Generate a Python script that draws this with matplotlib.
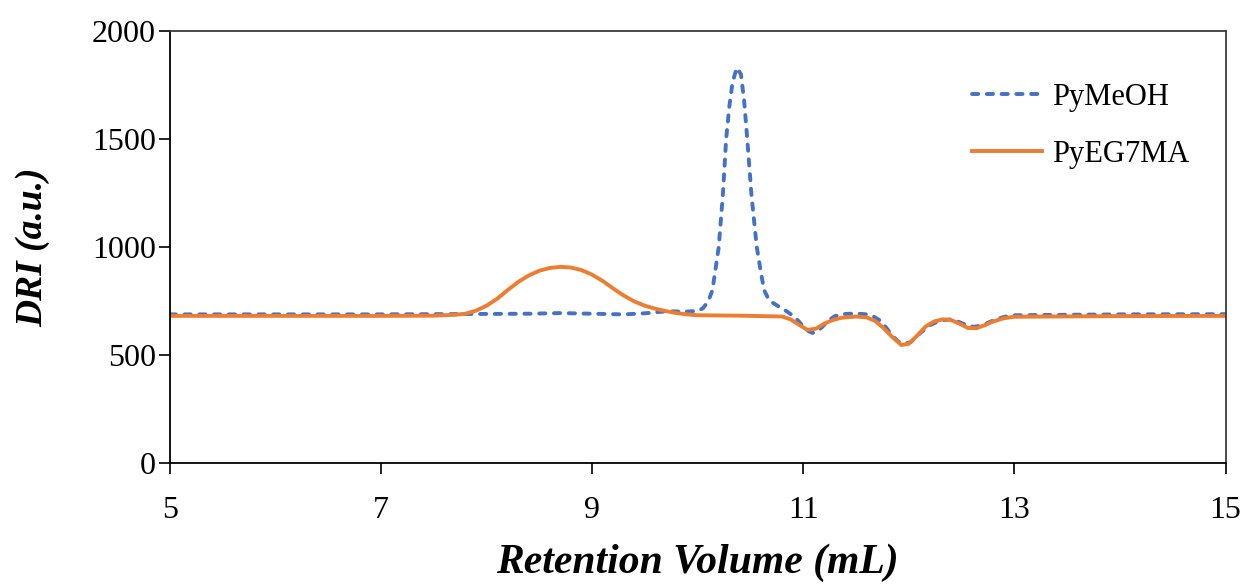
import numpy as np
import matplotlib
matplotlib.use("Agg")
import matplotlib.pyplot as plt

plt.rcParams['font.family'] = ['Liberation Serif', 'DejaVu Serif']

# PyMeOH (blue dashed)
meoh_x = [5.0, 6.0, 7.0, 8.0, 8.4, 8.7, 9.0, 9.3, 9.5, 9.7, 9.9, 10.0, 10.05, 10.1,
          10.14, 10.2, 10.24, 10.27, 10.3, 10.33, 10.37, 10.41, 10.44, 10.47, 10.51,
          10.56, 10.6, 10.63, 10.67, 10.7, 10.75, 10.8, 10.85, 10.9, 10.95, 11.0,
          11.05, 11.09, 11.13, 11.18, 11.24, 11.3, 11.4, 11.5, 11.6, 11.66, 11.72,
          11.78, 11.84, 11.9, 11.96, 12.02, 12.1, 12.2, 12.3, 12.4, 12.48, 12.55,
          12.62, 12.7, 12.8, 12.9, 13.0, 13.5, 14.0, 15.0]
meoh_y = [688, 688, 688, 690, 691, 694, 691, 688, 693, 702, 701, 704, 716, 748,
          800, 1000, 1250, 1500, 1650, 1760, 1830, 1800, 1680, 1500, 1240,
          1000, 880, 800, 760, 745, 730, 715, 700, 682, 660, 632,
          610, 602, 608, 630, 660, 680, 690, 692, 688, 680, 662,
          630, 592, 562, 552, 560, 598, 638, 660, 665, 652, 638,
          630, 638, 660, 676, 684, 686, 688, 689]

# PyEG7MA (orange solid)
eg7_x = [5.0, 6.0, 7.0, 7.5, 7.7, 7.8, 7.9, 8.0, 8.1, 8.2, 8.3, 8.4, 8.5, 8.6, 8.7,
         8.8, 8.9, 9.0, 9.1, 9.2, 9.3, 9.4, 9.5, 9.6, 9.7, 9.8, 9.9, 10.0, 10.4,
         10.8, 10.88, 10.95, 11.04, 11.12, 11.2, 11.28, 11.36, 11.5, 11.6, 11.68,
         11.76, 11.84, 11.93, 12.0, 12.08, 12.16, 12.24, 12.32, 12.4, 12.48, 12.56,
         12.64, 12.72, 12.8, 12.9, 13.0, 14.0, 15.0]
eg7_y = [681, 681, 681, 682, 686, 691, 705, 728, 760, 800, 838, 868, 890, 903, 908,
         905, 893, 872, 843, 808, 775, 748, 728, 714, 703, 694, 688, 684, 682,
         678, 665, 643, 616, 622, 645, 662, 672, 678, 674, 658,
         625, 585, 546, 552, 590, 632, 655, 665, 662, 645, 625,
         624, 638, 655, 670, 677, 680, 681]

fig = plt.figure(figsize=(12.48, 5.86), dpi=100)
ax = fig.add_axes([0.136, 0.210, 0.846, 0.737])

ax.plot(meoh_x, meoh_y, color='#4472C4', lw=2.8, linestyle=(0, (1.6, 2.2)),
        dash_capstyle='round', label='PyMeOH')
ax.plot(eg7_x, eg7_y, color='#ED7D31', lw=2.8, label='PyEG7MA')

ax.set_xlim(5, 15)
ax.set_ylim(0, 2000)
ax.set_xticks([5, 7, 9, 11, 13, 15])
ax.set_yticks([0, 500, 1000, 1500, 2000])
ax.tick_params(axis='both', direction='out', length=8, width=1.2, colors='black', labelsize=23)
ax.tick_params(axis='x', pad=16)
ax.tick_params(axis='y', pad=2)

for side in ['left', 'bottom']:
    ax.spines[side].set_color('black')
    ax.spines[side].set_linewidth(1.3)
for side in ['top', 'right']:
    ax.spines[side].set_color('#3a3a3a')
    ax.spines[side].set_linewidth(1.3)

ax.set_xlabel('Retention Volume (mL)', fontsize=30, fontweight='bold', style='italic', labelpad=13)
ax.set_ylabel('DRI (a.u.)', fontsize=27, fontweight='bold', style='italic', labelpad=30)

ax.legend(loc='upper left', frameon=False, fontsize=22, handlelength=2.3,
          handletextpad=0.3, labelspacing=0.92, borderpad=0, borderaxespad=0,
          bbox_to_anchor=(0.760, 0.88))

fig.savefig('out.png', dpi=100)
